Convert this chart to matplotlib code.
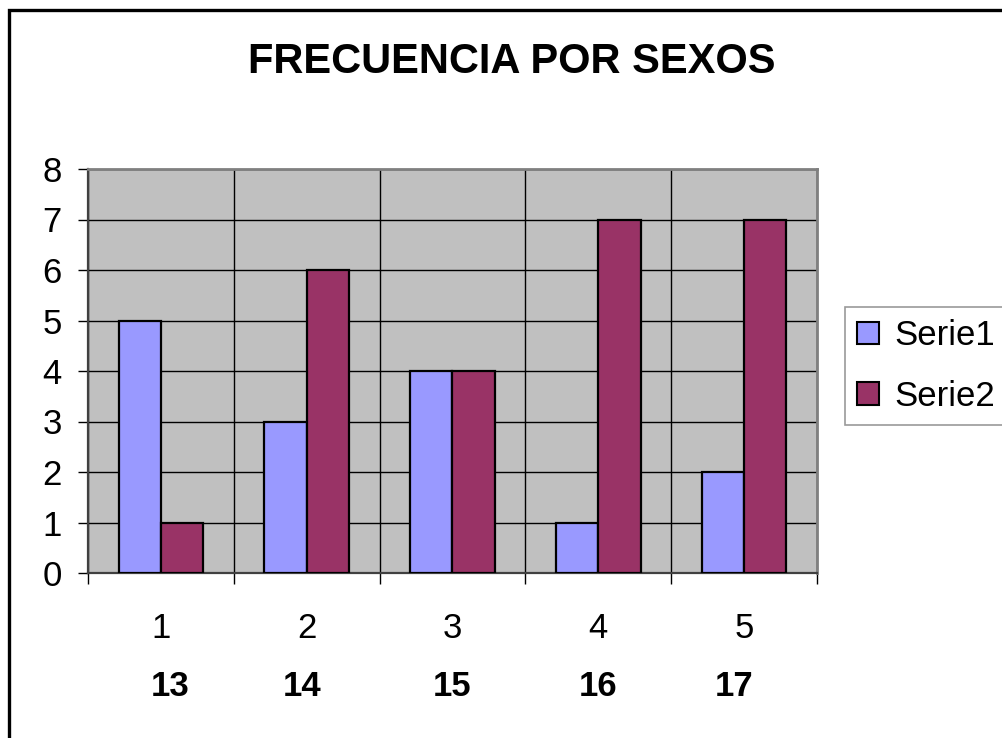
import matplotlib
matplotlib.use("Agg")
import matplotlib.pyplot as plt
import matplotlib.patches as mpatches
import matplotlib.transforms as mtransforms
import numpy as np

categories = ["1", "2", "3", "4", "5"]
ages = ["13", "14", "15", "16", "17"]
serie1 = [5, 3, 4, 1, 2]
serie2 = [1, 6, 4, 7, 7]
series_names = ["Serie1", "Serie2"]
title = "FRECUENCIA POR SEXOS"

plt.rcParams['font.family'] = ['Liberation Sans', 'DejaVu Sans']

W, H = 1003, 738
fig = plt.figure(figsize=(W / 100, H / 100), dpi=100)
fig.patch.set_facecolor("white")

ax = fig.add_axes([88 / W, 1 - 573 / H, (817 - 88) / W, (573 - 169) / H])
ax.set_facecolor("#C0C0C0")

x = np.arange(len(categories))
bw = 0.29
c1, c2 = "#9999FF", "#993366"
ax.bar(x - bw / 2, serie1, width=bw, color=c1, edgecolor="black", linewidth=1.6, zorder=3, label=series_names[0])
ax.bar(x + bw / 2, serie2, width=bw, color=c2, edgecolor="black", linewidth=1.6, zorder=3, label=series_names[1])

ax.set_xlim(-0.5, len(categories) - 0.5)
ax.set_ylim(0, 8)

FS = 25

# y axis
ax.set_yticks(range(0, 9))
ax.tick_params(axis="y", direction="out", length=7, width=1, pad=12, labelsize=FS, colors="black")
ax.yaxis.grid(True, color="black", linewidth=1, zorder=1)

# x axis: major ticks at boundaries (gridlines), minor at centers (labels)
ax.set_xticks(np.arange(-0.5, len(categories), 1.0))
ax.set_xticklabels([])
ax.set_xticks(x, minor=True)
ax.set_xticklabels(categories, minor=True)
ax.tick_params(axis="x", which="major", direction="out", length=8, width=1)
ax.tick_params(axis="x", which="minor", length=0, pad=28, labelsize=FS)
ax.xaxis.grid(True, which="major", color="black", linewidth=1, zorder=1)
ax.set_axisbelow(True)

for s in ["left", "bottom"]:
    ax.spines[s].set_color("#404040")
    ax.spines[s].set_linewidth(1.6)
for s in ["top", "right"]:
    ax.spines[s].set_color("#808080")
    ax.spines[s].set_linewidth(2)

# second row of labels (ages)
offsets = [0.06, -0.03, 0.0, 0.0, -0.07]
trans = mtransforms.blended_transform_factory(ax.transData, fig.transFigure)
for i, a in enumerate(ages):
    ax.text(x[i] + offsets[i], 1 - 686 / H, a, transform=trans,
            fontsize=FS, fontweight="bold", ha="center", va="center")

# title
fig.text(512 / W, 1 - 62 / H, title, fontsize=30, fontweight="bold", ha="center", va="center")

# legend
handles = [mpatches.Patch(facecolor=c1, edgecolor="black", linewidth=1.5),
           mpatches.Patch(facecolor=c2, edgecolor="black", linewidth=1.5)]
leg = fig.legend(handles, series_names, loc="upper left", bbox_to_anchor=(845 / W, 1 - 307 / H),
                 bbox_transform=fig.transFigure, fontsize=FS, frameon=True, fancybox=False,
                 handlelength=0.63, handleheight=0.63, handletextpad=0.45, borderpad=0.35,
                 labelspacing=0.8, borderaxespad=0)
leg.get_frame().set_edgecolor("#808080")
leg.get_frame().set_linewidth(1.2)

# outer frame
frame = mpatches.Rectangle((9.5 / W, -0.5), 2, 0.5 + 1 - 9.5 / H, transform=fig.transFigure,
                           fill=False, edgecolor="black", linewidth=2.4, zorder=10)
fig.patches.append(frame)

fig.savefig("out.png", dpi=100)
